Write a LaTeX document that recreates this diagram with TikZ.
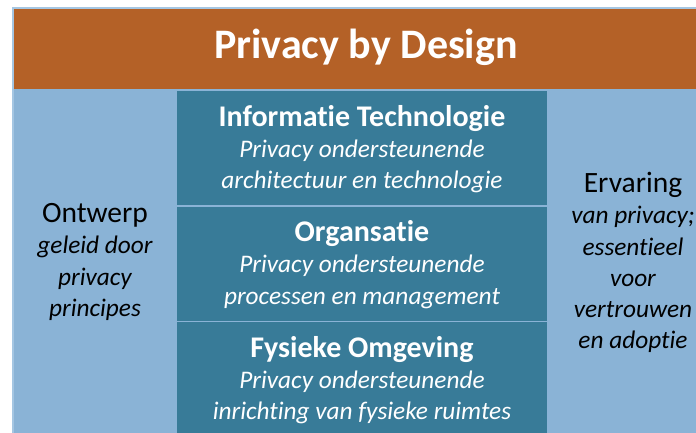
\documentclass[tikz,border=0pt]{standalone}
\usepackage{fontspec}
\setmainfont[Ligatures=NoCommon]{Carlito}
\definecolor{pbdorange}{RGB}{180,97,39}
\definecolor{pbdlight}{RGB}{138,179,214}
\definecolor{pbddark}{RGB}{56,123,152}
\definecolor{pbdedge}{RGB}{165,198,226}
\begin{document}
\begin{tikzpicture}[x=1pt,y=-1pt,
  panel/.style={anchor=north west, inner sep=0pt, outer sep=0pt},
  layerbox/.style={panel, fill=pbddark, minimum width=370pt, minimum height=114pt},
  layertext/.style={align=center, text=white, inner sep=0pt,
    font=\fontsize{25.3}{31.2}\selectfont\itshape},
  sidetext/.style={align=center, text=black, inner sep=0pt,
    font=\fontsize{25.3}{31.2}\selectfont\itshape}]
\useasboundingbox (0,0) rectangle (696,433);
\clip (0,0) rectangle (696,433);
\node[panel, fill=pbdlight, draw=pbdedge, line width=1.2pt,
  minimum width=730pt, minimum height=440pt] (outer) at (13,8) {};
\node[panel, fill=pbdorange, minimum width=720pt, minimum height=80pt] (band) at (13.6,9.2) {};
\node[text=white, inner sep=0pt, font=\fontsize{42}{48}\selectfont\bfseries] (title) at (366,47) {Privacy by Design};
\node[layerbox] (it) at (177,91) {};
\node[layerbox] (org) at (177,206.5) {};
\node[layerbox] (fys) at (177,322) {};
\node[layertext] (ittext) at (362,149) {{\fontsize{30}{31.2}\selectfont\bfseries\upshape Informatie Technologie}\\Privacy ondersteunende\\architectuur en technologie};
\node[layertext] (orgtext) at (362,264.5) {{\fontsize{30}{31.2}\selectfont\bfseries\upshape Organsatie}\\Privacy ondersteunende\\processen en management};
\node[layertext] (fystext) at (362,380) {{\fontsize{30}{31.2}\selectfont\bfseries\upshape Fysieke Omgeving}\\Privacy ondersteunende\\inrichting van fysieke ruimtes};
\node[sidetext] (left) at (95,262) {{\fontsize{29.5}{31.2}\selectfont\upshape Ontwerp}\\geleid door\\privacy\\principes};
\node[sidetext] (right) at (633,262.5) {{\fontsize{29.5}{31.2}\selectfont\upshape Ervaring}\\van privacy;\\essentieel\\voor\\vertrouwen\\en adoptie};
\end{tikzpicture}
\end{document}
